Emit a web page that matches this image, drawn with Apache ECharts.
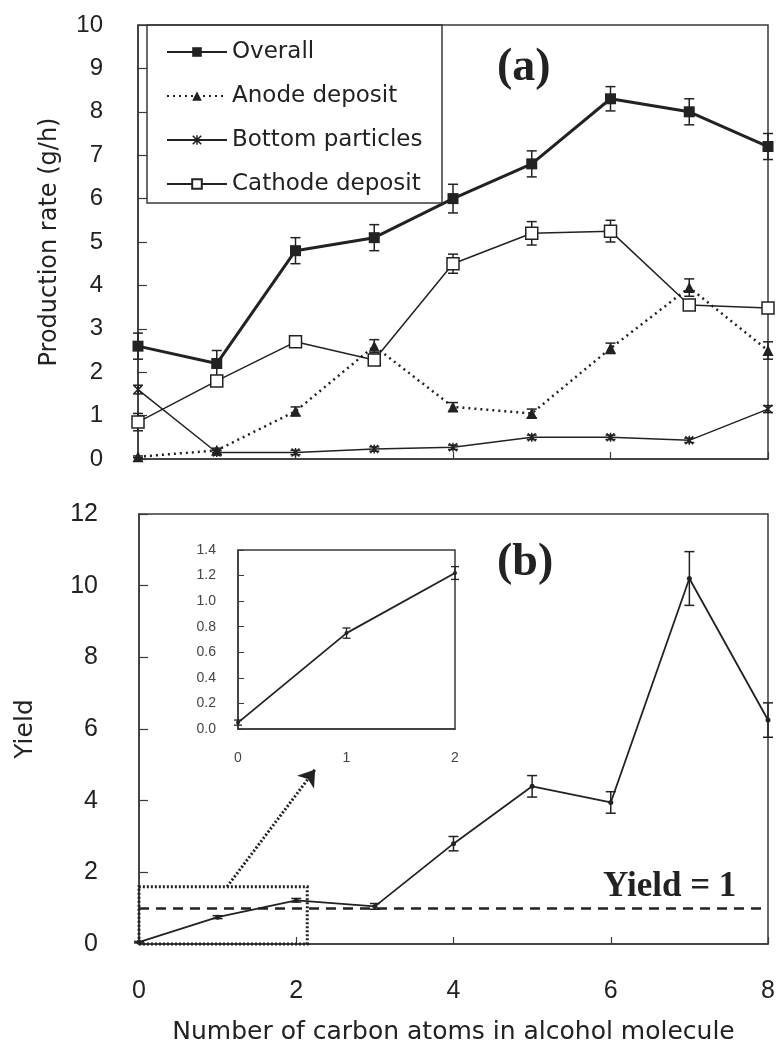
<!DOCTYPE html>
<html>
<head>
<meta charset="utf-8">
<script src="https://cdn.jsdelivr.net/npm/echarts@6/dist/echarts.min.js"></script>
<style>
  html, body { margin: 0; padding: 0; background: #fff; }
  #chart { width: 778px; height: 1048px; }
</style>
</head>
<body>
<div id="chart"></div>
<script>
// Number of carbon atoms in the alcohol molecule
const carbonAtoms = [0, 1, 2, 3, 4, 5, 6, 7, 8];

// (a) Production rate, g/h
const overall       = [2.6, 2.2, 4.8, 5.1, 6.0, 6.8, 8.3, 8.0, 7.2];
const overallErr    = [0.3, 0.3, 0.3, 0.3, 0.33, 0.3, 0.28, 0.3, 0.3];
const anode         = [0.05, 0.2, 1.1, 2.6, 1.2, 1.05, 2.55, 3.95, 2.5];
const anodeErr      = [0.02, 0.05, 0.1, 0.15, 0.1, 0.1, 0.12, 0.2, 0.2];
const bottom        = [1.6, 0.15, 0.15, 0.23, 0.27, 0.5, 0.5, 0.43, 1.15];
const bottomErr     = [0.1, 0.05, 0.05, 0.05, 0.05, 0.05, 0.05, 0.05, 0.08];
const cathode       = [0.85, 1.8, 2.7, 2.28, 4.5, 5.2, 5.25, 3.55, 3.48];
const cathodeErr    = [0.2, 0.1, 0.1, 0.1, 0.22, 0.27, 0.25, 0.1, 0.1];

// (b) Yield
const yieldVals     = [0.05, 0.75, 1.22, 1.05, 2.8, 4.4, 3.95, 10.2, 6.25];
const yieldErr      = [0.02, 0.04, 0.05, 0.08, 0.2, 0.3, 0.3, 0.75, 0.48];
const yieldRef      = 1;

const seriesNames = ['Overall', 'Anode deposit', 'Bottom particles', 'Cathode deposit'];

const INK = '#222';
const AXIS = '#3a3a3a';

function pairs(ys) { return ys.map((v, i) => [carbonAtoms[i], v]); }
function errData(ys, es) { return ys.map((v, i) => [carbonAtoms[i], v - es[i], v + es[i]]); }

function errorBars(capHalf, width) {
  return function (params, api) {
    const x = api.value(0);
    const lo = api.coord([x, api.value(1)]);
    const hi = api.coord([x, api.value(2)]);
    const st = { stroke: INK, lineWidth: width };
    return {
      type: 'group',
      children: [
        { type: 'line', shape: { x1: hi[0], y1: hi[1], x2: lo[0], y2: lo[1] }, style: st },
        { type: 'line', shape: { x1: hi[0] - capHalf, y1: hi[1], x2: hi[0] + capHalf, y2: hi[1] }, style: st },
        { type: 'line', shape: { x1: lo[0] - capHalf, y1: lo[1], x2: lo[0] + capHalf, y2: lo[1] }, style: st }
      ]
    };
  };
}

// asterisk-like marker: an × with a vertical stroke
const asterisk = 'path://M4.2,0L5.8,0L5.8,10L4.2,10Z M0,1.2L1.2,0L10,8.8L8.8,10Z M8.8,0L10,1.2L1.2,10L0,8.8Z';

const tickFont = 'Liberation Sans, Arial, sans-serif';
const textFont = 'DejaVu Sans, sans-serif';

const chart = echarts.init(document.getElementById('chart'), null, { renderer: 'canvas' });

const option = {
  animation: false,
  backgroundColor: '#fff',
  grid: [
    { left: 138, top: 25, width: 630, height: 434, show: true, borderColor: AXIS, borderWidth: 1.5, backgroundColor: 'transparent' },
    { left: 139, top: 514, width: 629, height: 430, show: true, borderColor: AXIS, borderWidth: 1.5, backgroundColor: 'transparent' },
    { left: 238, top: 550, width: 217, height: 179, show: true, borderColor: AXIS, borderWidth: 1.5, backgroundColor: '#fff' }
  ],
  xAxis: [
    {
      gridIndex: 0, type: 'value', min: 0, max: 8, interval: 2,
      axisLine: { lineStyle: { color: AXIS, width: 1.5 } },
      axisTick: { inside: true, length: 7, lineStyle: { color: AXIS, width: 1.2 } },
      axisLabel: { show: false }, splitLine: { show: false }
    },
    {
      gridIndex: 1, type: 'value', min: 0, max: 8, interval: 2,
      axisLine: { lineStyle: { color: AXIS, width: 1.5 } },
      axisTick: { inside: true, length: 7, lineStyle: { color: AXIS, width: 1.2 } },
      axisLabel: { margin: 35, fontSize: 25, color: INK, fontFamily: tickFont },
      splitLine: { show: false },
      name: 'Number of carbon atoms in alcohol molecule',
      nameLocation: 'middle', nameGap: 76,
      nameTextStyle: { fontSize: 25, color: INK, fontFamily: textFont }
    },
    {
      gridIndex: 2, type: 'value', min: 0, max: 2, interval: 1,
      axisLine: { lineStyle: { color: AXIS, width: 1.5 } },
      axisTick: { show: false },
      axisLabel: { margin: 22, fontSize: 14, color: '#444', fontFamily: tickFont },
      splitLine: { show: false }
    }
  ],
  yAxis: [
    {
      gridIndex: 0, type: 'value', min: 0, max: 10, interval: 1,
      axisLine: { show: true, lineStyle: { color: AXIS, width: 1.5 } },
      axisTick: { show: true, inside: true, length: 9, lineStyle: { color: AXIS, width: 1.2 } },
      axisLabel: { margin: 35, fontSize: 24, color: INK, fontFamily: tickFont },
      splitLine: { show: false },
      name: 'Production rate (g/h)', nameLocation: 'middle', nameGap: 76,
      nameTextStyle: { fontSize: 24, color: INK, fontFamily: textFont }
    },
    {
      gridIndex: 1, type: 'value', min: 0, max: 12, interval: 2,
      axisLine: { show: true, lineStyle: { color: AXIS, width: 1.5 } },
      axisTick: { show: true, inside: true, length: 9, lineStyle: { color: AXIS, width: 1.2 } },
      axisLabel: { margin: 41, fontSize: 25, color: INK, fontFamily: tickFont },
      splitLine: { show: false },
      name: 'Yield', nameLocation: 'middle', nameGap: 101,
      nameTextStyle: { fontSize: 25, color: INK, fontFamily: textFont }
    },
    {
      gridIndex: 2, type: 'value', min: 0, max: 1.4, interval: 0.2,
      axisLine: { show: true, lineStyle: { color: AXIS, width: 1.5 } },
      axisTick: { show: true, inside: true, length: 6, lineStyle: { color: AXIS, width: 1 } },
      axisLabel: { margin: 22, fontSize: 14, color: '#444', fontFamily: tickFont, formatter: v => v.toFixed(1) },
      splitLine: { show: false }
    }
  ],
  legend: {
    data: seriesNames,
    orient: 'vertical',
    left: 166, top: 40, padding: 0,
    itemWidth: 60, itemHeight: 12, itemGap: 20,
    textStyle: { fontSize: 23, lineHeight: 24, color: INK, fontFamily: textFont },
    selectedMode: false
  },
  graphic: [
    { type: 'rect', shape: { x: 147, y: 25, width: 295, height: 178 }, style: { fill: 'transparent', stroke: AXIS, lineWidth: 1.5 }, z: 10 },
    { type: 'text', left: 497, top: 45, style: { text: '(a)', font: 'bold 46px "Liberation Serif", serif', fill: INK }, z: 10 },
    { type: 'text', left: 497, top: 540, style: { text: '(b)', font: 'bold 46px "Liberation Serif", serif', fill: INK }, z: 10 },
    { type: 'text', left: 603, top: 869, style: { text: 'Yield = 1', font: 'bold 35px "Liberation Serif", serif', fill: INK }, z: 10 }
  ],
  series: [
    // (a) production rates
    {
      name: 'Overall', type: 'line', xAxisIndex: 0, yAxisIndex: 0, data: pairs(overall),
      symbol: 'rect', symbolSize: 11, itemStyle: { color: INK },
      lineStyle: { color: INK, width: 3 }, z: 5
    },
    {
      name: 'Anode deposit', type: 'line', xAxisIndex: 0, yAxisIndex: 0, data: pairs(anode),
      symbol: 'triangle', symbolSize: 11, itemStyle: { color: INK },
      lineStyle: { color: INK, width: 2.5, type: [2, 4] }, z: 4
    },
    {
      name: 'Bottom particles', type: 'line', xAxisIndex: 0, yAxisIndex: 0, data: pairs(bottom),
      symbol: asterisk, symbolSize: 9, itemStyle: { color: INK },
      lineStyle: { color: INK, width: 1.5 }, z: 4
    },
    {
      name: 'Cathode deposit', type: 'line', xAxisIndex: 0, yAxisIndex: 0, data: pairs(cathode),
      symbol: 'rect', symbolSize: 12, itemStyle: { color: '#fff', borderColor: INK, borderWidth: 1.5 },
      lineStyle: { color: INK, width: 1.5 }, z: 6
    },
    { type: 'custom', xAxisIndex: 0, yAxisIndex: 0, data: errData(overall, overallErr), renderItem: errorBars(5, 1.5), z: 3 },
    { type: 'custom', xAxisIndex: 0, yAxisIndex: 0, data: errData(anode, anodeErr), renderItem: errorBars(5, 1.5), z: 3 },
    { type: 'custom', xAxisIndex: 0, yAxisIndex: 0, data: errData(bottom, bottomErr), renderItem: errorBars(5, 1.5), z: 3 },
    { type: 'custom', xAxisIndex: 0, yAxisIndex: 0, data: errData(cathode, cathodeErr), renderItem: errorBars(5, 1.5), z: 3 },

    // (b) yield
    {
      name: 'Yield', type: 'line', xAxisIndex: 1, yAxisIndex: 1, data: pairs(yieldVals),
      symbol: 'circle', symbolSize: 5, itemStyle: { color: INK },
      lineStyle: { color: INK, width: 1.8 }, z: 5,
      markLine: {
        silent: true, symbol: 'none', label: { show: false },
        data: [
          { yAxis: yieldRef, lineStyle: { color: INK, width: 2.5, type: [10, 7] } },
          [
            { coord: [1.12, 1.6], symbol: 'none', lineStyle: { color: INK, width: 3, type: [2, 2] } },
            { coord: [2.24, 4.87], symbol: 'arrow', symbolSize: 16 }
          ]
        ]
      },
      markArea: {
        silent: true,
        itemStyle: { color: 'transparent', borderColor: INK, borderWidth: 3, borderType: [2, 2] },
        data: [[{ coord: [0, 0] }, { coord: [2.14, 1.6] }]]
      }
    },
    { type: 'custom', xAxisIndex: 1, yAxisIndex: 1, data: errData(yieldVals, yieldErr), renderItem: errorBars(5, 1.5), z: 3 },

    // inset: first three points of the yield curve
    {
      type: 'line', xAxisIndex: 2, yAxisIndex: 2, data: pairs(yieldVals.slice(0, 3)),
      symbol: 'circle', symbolSize: 4, itemStyle: { color: INK },
      lineStyle: { color: INK, width: 1.8 }, z: 5
    },
    { type: 'custom', xAxisIndex: 2, yAxisIndex: 2, data: errData(yieldVals.slice(0, 3), yieldErr.slice(0, 3)), renderItem: errorBars(4, 1.3), z: 3 }
  ]
};

chart.setOption(option);
</script>
</body>
</html>
